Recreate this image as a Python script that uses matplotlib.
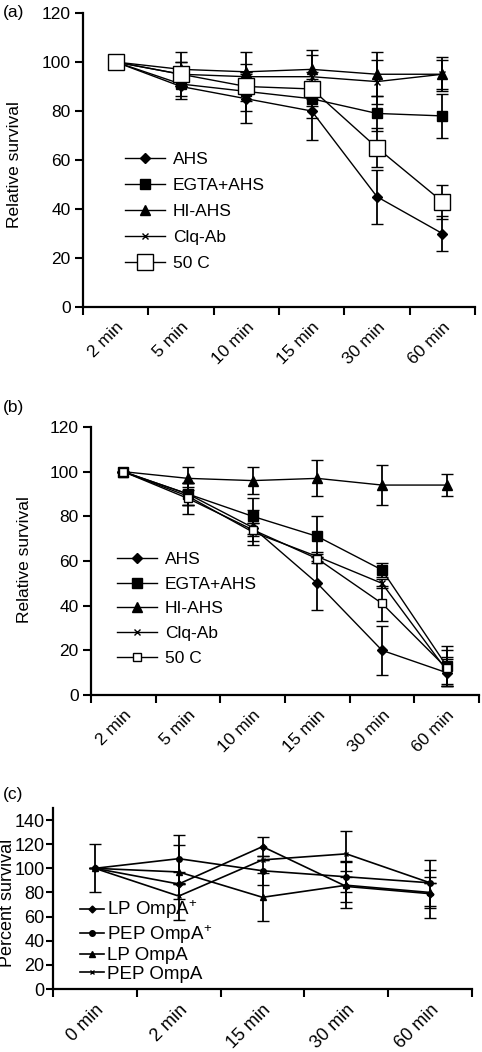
import numpy as np
import matplotlib
matplotlib.use('Agg')
import matplotlib.pyplot as plt
from matplotlib.lines import Line2D

plt.rcParams['font.family'] = ['Liberation Sans', 'DejaVu Sans']
plt.rcParams['mathtext.fontset'] = 'custom'
plt.rcParams['mathtext.rm'] = 'Liberation Sans'
plt.rcParams['mathtext.it'] = 'Liberation Sans'

# panel (a) / (b) shared
times_ab = ['2 min', '5 min', '10 min', '15 min', '30 min', '60 min']
names_ab = ['AHS', 'EGTA+AHS', 'HI-AHS', 'Clq-Ab', '50 C']

a_ahs = [100, 90, 85, 80, 45, 30]
a_egta = [100, 91, 88, 85, 79, 78]
a_hi = [100, 97, 96, 97, 95, 95]
a_clq = [100, 95, 94, 94, 92, 95]
a_50c = [100, 95, 90, 89, 65, 43]
a_ahs_err = [0, 5, 10, 12, 11, 7]
a_egta_err = [0, 5, 8, 8, 7, 9]
a_hi_err = [0, 7, 8, 8, 9, 7]
a_clq_err = [0, 5, 5, 9, 9, 6]
a_50c_err = [0, 5, 6, 7, 8, 7]

b_ahs = [100, 90, 75, 50, 20, 10]
b_egta = [100, 90, 80, 71, 56, 13]
b_hi = [100, 97, 96, 97, 94, 94]
b_clq = [100, 89, 73, 62, 50, 11]
b_50c = [100, 88, 74, 61, 41, 12]
b_ahs_err = [0, 5, 8, 12, 11, 6]
b_egta_err = [0, 5, 8, 9, 3, 9]
b_hi_err = [0, 5, 6, 8, 9, 5]
b_clq_err = [0, 4, 4, 2, 2, 6]
b_50c_err = [0, 7, 3, 2, 8, 8]

# panel (c)
times_c = ['0 min', '2 min', '15 min', '30 min', '60 min']
names_c = [r'LP OmpA$^{+}$', r'PEP OmpA$^{+}$', 'LP OmpA', 'PEP OmpA']
c_lp_plus = [100, 87, 118, 85, 79]
c_pep_plus = [100, 108, 98, 93, 88]
c_lp = [100, 97, 76, 86, 80]
c_pep = [100, 77, 107, 112, 88]
c_lp_plus_err = [0, 0, 8, 13, 20]
c_pep_plus_err = [0, 20, 12, 13, 19]
c_lp_err = [0, 22, 20, 19, 13]
c_pep_err = [20, 20, 0, 19, 0]

W, H = 482, 1052
fig = plt.figure(figsize=(W / 100, H / 100), dpi=100)


def box(l, r, t, b):
    return [l / W, 1 - b / H, (r - l) / W, (b - t) / H]


def style_axes(ax, cats, ymax, yticks, fs):
    n = len(cats)
    for s in ['top', 'right']:
        ax.spines[s].set_visible(False)
    for s in ['left', 'bottom']:
        ax.spines[s].set_linewidth(1.6)
    ax.set_xlim(-0.5, n - 0.5)
    ax.set_ylim(0, ymax)
    ax.set_yticks(yticks)
    ax.set_xticks(np.arange(n + 1) - 0.5)
    ax.set_xticklabels([])
    ax.set_xticks(np.arange(n), minor=True)
    ax.set_xticklabels(cats, minor=True, rotation=45, ha='right',
                       rotation_mode='anchor', fontsize=fs)
    ax.tick_params(axis='x', which='minor', length=0, pad=9)
    ax.tick_params(axis='x', which='major', length=6, width=1.5, direction='out')
    ax.tick_params(axis='y', length=6, width=1.5, labelsize=fs, pad=3)


def series(ax, x, y, err, marker, ms, mfc='black', lw=1.0):
    ax.errorbar(x, y, yerr=err, color='black', lw=lw, marker=marker, ms=ms,
                mfc=mfc, mec='black', mew=1.0, ecolor='black', elinewidth=1.3,
                capsize=4, capthick=1.3)
    return Line2D([], [], color='black', lw=lw, marker=marker, ms=ms,
                  mfc=mfc, mec='black', mew=1.0)


# ---- (a)
ax1 = fig.add_axes(box(83, 475, 13, 307))
x = np.arange(len(times_ab))
h = [series(ax1, x, a_ahs, a_ahs_err, 'D', 5),
     series(ax1, x, a_egta, a_egta_err, 's', 7),
     series(ax1, x, a_hi, a_hi_err, '^', 7),
     series(ax1, x, a_clq, a_clq_err, 'x', 5),
     series(ax1, x, a_50c, a_50c_err, 's', 12, mfc='white')]
style_axes(ax1, times_ab, 120, range(0, 121, 20), 12.5)
ax1.legend(h, names_ab, loc='upper left', bbox_to_anchor=(0.09, 0.55), frameon=False,
           fontsize=12.5, handlelength=2.3, handletextpad=0.45, labelspacing=0.62,
           borderaxespad=0)
fig.text(3 / W, 1 - 12 / H, '(a)', fontsize=12.5, va='center')
fig.text(15 / W, 1 - 165 / H, 'Relative survival', fontsize=12.5, rotation=90,
         va='center', ha='center')

# ---- (b)
ax2 = fig.add_axes(box(91, 479, 427, 695))
h = [series(ax2, x, b_ahs, b_ahs_err, 'D', 5),
     series(ax2, x, b_egta, b_egta_err, 's', 7),
     series(ax2, x, b_hi, b_hi_err, '^', 7),
     series(ax2, x, b_clq, b_clq_err, 'x', 5),
     series(ax2, x, b_50c, b_50c_err, 's', 6, mfc='white')]
style_axes(ax2, times_ab, 120, range(0, 121, 20), 12.5)
ax2.legend(h, names_ab, loc='upper left', bbox_to_anchor=(0.05, 0.56), frameon=False,
           fontsize=12.5, handlelength=2.3, handletextpad=0.45, labelspacing=0.55,
           borderaxespad=0)
fig.text(3 / W, 1 - 407 / H, '(b)', fontsize=12.5, va='center')
fig.text(25 / W, 1 - 560 / H, 'Relative survival', fontsize=12.5, rotation=90,
         va='center', ha='center')

# ---- (c)
ax3 = fig.add_axes(box(53, 472, 808, 989))
xc = np.arange(len(times_c))
h = [series(ax3, xc, c_lp_plus, c_lp_plus_err, 'D', 3.5, lw=1.2),
     series(ax3, xc, c_pep_plus, c_pep_plus_err, 'o', 4, lw=1.2),
     series(ax3, xc, c_lp, c_lp_err, '^', 4, lw=1.2),
     series(ax3, xc, c_pep, c_pep_err, 'x', 3.5, lw=1.2)]
style_axes(ax3, times_c, 150, range(0, 141, 20), 13)
ax3.tick_params(axis='y', pad=1, length=5)
ax3.legend(h, names_c, loc='upper left', bbox_to_anchor=(19 / 419, 0.54), frameon=False,
           fontsize=13.5, handlelength=1.3, handletextpad=0.15, labelspacing=0.08,
           borderaxespad=0)
fig.text(3 / W, 1 - 795 / H, '(c)', fontsize=12.5, va='center')
fig.text(8 / W, 1 - 903 / H, 'Percent survival', fontsize=13, rotation=90,
         va='center', ha='center')

fig.savefig('out.png', dpi=100)
